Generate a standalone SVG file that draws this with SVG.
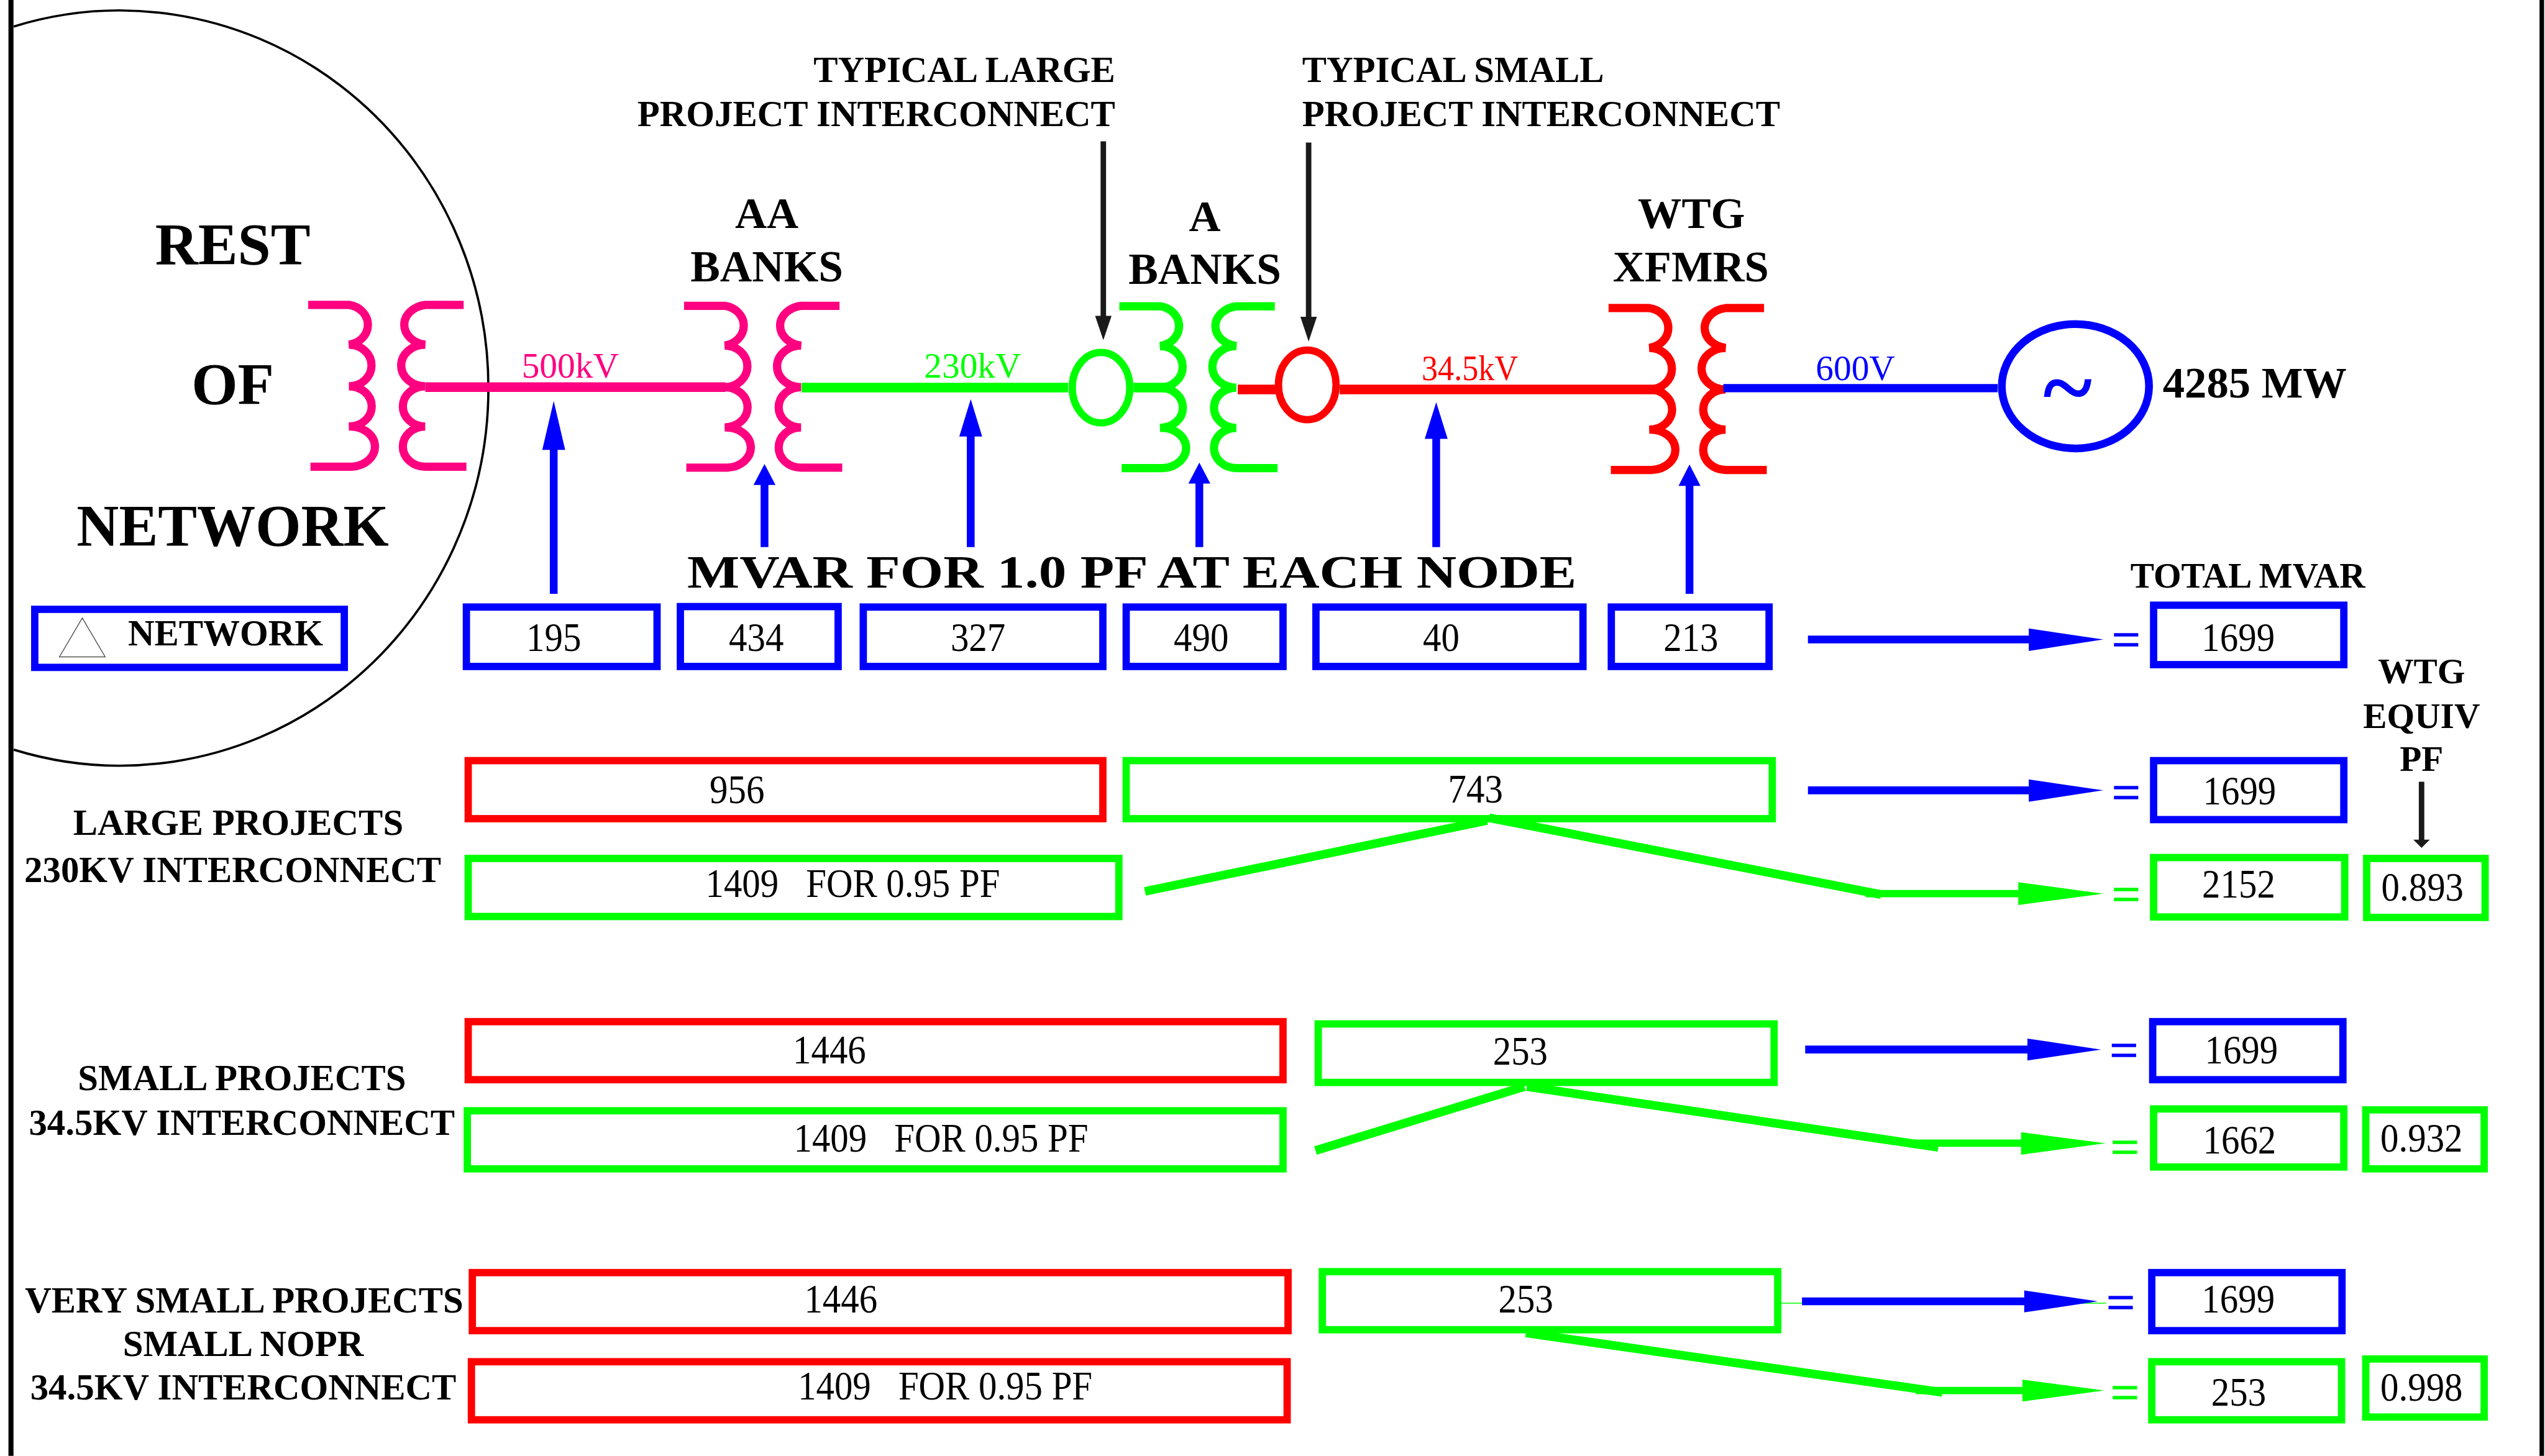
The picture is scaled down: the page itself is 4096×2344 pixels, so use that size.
<svg xmlns="http://www.w3.org/2000/svg" width="4096" height="2344" viewBox="0 0 4096 2344">
<style>
text{font-family:"Liberation Serif","Times New Roman",serif;white-space:pre}
.b{font-weight:700;fill:#000}
.r{font-weight:400;fill:#000}
.m{text-anchor:middle}
.e{text-anchor:end}
.t{font-size:88px}
.blu{fill:none;stroke:#00f;stroke-width:16}
.grn{fill:none;stroke:#0f0;stroke-width:16}
.red{fill:none;stroke:#f00;stroke-width:16}
.eqb{font-size:110px;text-anchor:middle;fill:#00f;stroke:#00f;stroke-width:2}
.eqg{font-size:110px;text-anchor:middle;fill:#0f0;stroke:#0f0;stroke-width:2}
.sb{stroke:#00f;stroke-width:17;fill:none}
.sg{stroke:#0f0;stroke-width:19;fill:none}
.sk{stroke:#1a1a1a;stroke-width:12;fill:none}
.hb{fill:#00f}
.hg{fill:#0f0}
.hk{fill:#1a1a1a}
</style>
<defs>
<g id="xf" fill="none" stroke="currentColor" stroke-width="18">
<path d="M674,667H763A49,44 0 0 1 763,754A49,45 0 0 1 763,845A50,44 0 0 1 763,933A54,44 0 0 1 769,1021H679"/>
<path d="M1014,667H930A54,44 0 0 0 930,754A52,45 0 0 0 930,845A49,44 0 0 0 930,933A49,44 0 0 0 930,1021H1020"/>
</g>
</defs>
<rect width="4096" height="2344" fill="#fff"/>
<g transform="scale(0.7359)">
<g id="frame">
<line x1="24" y1="0" x2="24" y2="3185" stroke="#000" stroke-width="11"/>
<line x1="5559" y1="0" x2="5559" y2="3185" stroke="#000" stroke-width="10"/>
</g>
<g id="network">
<path d="M30,58A806,826 0 1 1 30,1640" fill="none" stroke="#000" stroke-width="5"/>
<text class="b m" x="509" y="579" font-size="130">REST</text>
<text class="b m" x="509" y="885" font-size="130">OF</text>
<text class="b m" x="509" y="1194" font-size="128">NETWORK</text>
</g>
<g id="xfmr-root" style="color:#ff0080"><use href="#xf"/></g>
<g id="aa-banks" style="color:#ff0080">
<use href="#xf" transform="translate(822,2)"/>
<text class="b m" x="1677" y="499" font-size="96">AA</text>
<text class="b m" x="1677" y="616" font-size="97">BANKS</text>
</g>
<g id="a-banks" style="color:#0f0">
<use href="#xf" transform="translate(1774,3)"/>
<text class="b m" x="2635" y="505" font-size="96">A</text>
<text class="b m" x="2635" y="621" font-size="97">BANKS</text>
</g>
<g id="wtg-xfmrs" style="color:#f00">
<use href="#xf" transform="translate(2844,7)"/>
<text class="b m" x="3699" y="499" font-size="96">WTG</text>
<text class="b m" x="3698" y="616" font-size="96">XFMRS</text>
</g>
<g id="large-node">
<ellipse cx="2408" cy="848" rx="63" ry="77" fill="none" stroke="#0f0" stroke-width="16"/>
<text class="b e" x="2439" y="180" font-size="80">TYPICAL LARGE</text>
<text class="b e" x="2439" y="276" font-size="80">PROJECT INTERCONNECT</text>
</g>
<g id="small-node">
<ellipse cx="2859" cy="842" rx="63" ry="76" fill="none" stroke="#f00" stroke-width="16"/>
<text class="b" x="2848" y="180" font-size="80">TYPICAL SMALL</text>
<text class="b" x="2848" y="276" font-size="80">PROJECT INTERCONNECT</text>
</g>
<g id="generator">
<ellipse cx="4539" cy="845" rx="161" ry="136" fill="none" stroke="#00f" stroke-width="17"/>
<text class="b m" x="4522" y="916" font-size="205" style="fill:#00f">~</text>
<text class="b" x="4730" y="870" font-size="96">4285 MW</text>
</g>
<g id="connectors">
<line x1="930" y1="847" x2="1587" y2="847" stroke="#ff0080" stroke-width="21"/>
<line x1="1753" y1="848" x2="2336" y2="848" stroke="#0f0" stroke-width="21"/>
<line x1="2479" y1="848" x2="2554" y2="848" stroke="#0f0" stroke-width="21"/>
<line x1="2707" y1="852" x2="2790" y2="852" stroke="#f00" stroke-width="21"/>
<line x1="2930" y1="852" x2="3621" y2="852" stroke="#f00" stroke-width="21"/>
<line x1="3769" y1="849" x2="4369" y2="849" stroke="#00f" stroke-width="18"/>
<line class="sk" x1="2413" y1="309" x2="2413" y2="695"/><polygon class="hk" points="2395,691 2431,691 2413,744"/>
<line class="sk" x1="2862" y1="312" x2="2862" y2="697"/><polygon class="hk" points="2844,693 2880,693 2862,747"/>
<line class="sk" x1="5296" y1="1710" x2="5296" y2="1840"/><polygon class="hk" points="5278,1837 5314,1837 5296,1855"/>
<line class="sb" x1="1211" y1="1299" x2="1211" y2="980"/><polygon class="hb" points="1186,984 1236,984 1211,877"/>
<line class="sb" x1="1672" y1="1197" x2="1672" y2="1058"/><polygon class="hb" points="1648,1061 1696,1061 1672,1015"/>
<line class="sb" x1="2123" y1="1197" x2="2123" y2="952"/><polygon class="hb" points="2098,955 2148,955 2123,873"/>
<line class="sb" x1="2623" y1="1197" x2="2623" y2="1055"/><polygon class="hb" points="2599,1058 2647,1058 2623,1012"/>
<line class="sb" x1="3141" y1="1197" x2="3141" y2="957"/><polygon class="hb" points="3116,960 3166,960 3141,880"/>
<line class="sb" x1="3695" y1="1299" x2="3695" y2="1060"/><polygon class="hb" points="3671,1063 3719,1063 3695,1016"/>
<line class="sb" x1="3954" y1="1399" x2="4440" y2="1399"/><polygon class="hb" points="4437,1375 4600,1399 4437,1424"/>
<line class="sb" x1="3954" y1="1729" x2="4440" y2="1729"/><polygon class="hb" points="4437,1705 4600,1729 4437,1754"/>
<line class="sb" x1="3948" y1="2296" x2="4437" y2="2296"/><polygon class="hb" points="4434,2272 4595,2296 4434,2320"/>
<line x1="3896" y1="2851" x2="4606" y2="2851" stroke="#0f0" stroke-width="2"/>
<line class="sb" x1="3941" y1="2847" x2="4430" y2="2847"/><polygon class="hb" points="4427,2823 4588,2847 4427,2871"/>
<polyline class="sg" points="2504,1950 3252,1795"/>
<polyline class="sg" points="3257,1789 4114,1957"/>
<line class="sg" x1="4080" y1="1955" x2="4417" y2="1955" style="stroke-width:16"/><polygon class="hg" points="4414,1930 4600,1955 4414,1980"/>
<polyline class="sg" points="2877,2517 3334,2377"/>
<polyline class="sg" points="3339,2377 4239,2510"/>
<line class="sg" x1="4185" y1="2501" x2="4423" y2="2501" style="stroke-width:16"/><polygon class="hg" points="4420,2477 4605,2501 4420,2526"/>
<polyline class="sg" points="3337,2916 4248,3046"/>
<line class="sg" x1="4190" y1="3042" x2="4426" y2="3042" style="stroke-width:16"/><polygon class="hg" points="4423,3018 4602,3042 4423,3066"/>
</g>
<g id="voltage-labels">
<text class="r" x="1141" y="826" font-size="78" style="fill:#ff0080">500kV</text>
<text class="r" x="2021" y="826" font-size="78" style="fill:#0f0">230kV</text>
<text class="r" x="3109" y="831" font-size="78" textLength="211" lengthAdjust="spacingAndGlyphs" style="fill:#f00">34.5kV</text>
<text class="r" x="3971" y="831" font-size="78" style="fill:#00f">600V</text>
</g>
<g id="title"><text class="b" x="1503" y="1286" font-size="100" textLength="1945" lengthAdjust="spacingAndGlyphs">MVAR FOR 1.0 PF AT EACH NODE</text></g>
<g id="legend">
<rect class="blu" x="76" y="1333" width="677" height="127"/>
<polygon points="180,1352 130,1437 230,1437" fill="#fff" stroke="#555" stroke-width="2"/>
<text class="b" x="280" y="1412" font-size="80">NETWORK</text>
</g>
<g id="node-195"><rect class="blu" x="1020" y="1328" width="417" height="130"/><text class="r m t" x="1211" y="1424" textLength="120" lengthAdjust="spacingAndGlyphs">195</text></g>
<g id="node-434"><rect class="blu" x="1488" y="1327" width="345" height="131"/><text class="r m t" x="1654" y="1424" textLength="120" lengthAdjust="spacingAndGlyphs">434</text></g>
<g id="node-327"><rect class="blu" x="1888" y="1328" width="524" height="130"/><text class="r m t" x="2139" y="1424" textLength="120" lengthAdjust="spacingAndGlyphs">327</text></g>
<g id="node-490"><rect class="blu" x="2463" y="1328" width="343" height="130"/><text class="r m t" x="2627" y="1424" textLength="120" lengthAdjust="spacingAndGlyphs">490</text></g>
<g id="node-40"><rect class="blu" x="2878" y="1328" width="584" height="130"/><text class="r m t" x="3152" y="1424" textLength="80" lengthAdjust="spacingAndGlyphs">40</text></g>
<g id="node-213"><rect class="blu" x="3524" y="1328" width="345" height="130"/><text class="r m t" x="3698" y="1424" textLength="120" lengthAdjust="spacingAndGlyphs">213</text></g>
<g id="total-head"><text class="b m" x="4916" y="1286" font-size="78">TOTAL MVAR</text></g>
<g id="node-total-1"><rect class="blu" x="4710" y="1324" width="416" height="130"/><text class="r m t" x="4895" y="1424" textLength="160" lengthAdjust="spacingAndGlyphs">1699</text><text class="eqb" x="4650" y="1436">=</text></g>
<g id="pf-head">
<text class="b m" x="5296" y="1495" font-size="78">WTG</text>
<text class="b m" x="5296" y="1592" font-size="78">EQUIV</text>
<text class="b m" x="5296" y="1687" font-size="78">PF</text>
</g>
<g id="large-label">
<text class="b m" x="521" y="1827" font-size="80">LARGE PROJECTS</text>
<text class="b m" x="509" y="1930" font-size="80">230KV INTERCONNECT</text>
</g>
<g id="node-956"><rect class="red" x="1024" y="1664" width="1388" height="127"/><text class="r m t" x="1612" y="1757" textLength="120" lengthAdjust="spacingAndGlyphs">956</text></g>
<g id="node-743"><rect class="grn" x="2463" y="1664" width="1413" height="127"/><text class="r m t" x="3227" y="1755" textLength="120" lengthAdjust="spacingAndGlyphs">743</text></g>
<g id="node-1409a"><rect class="grn" x="1024" y="1878" width="1423" height="127"/><text class="r t" x="1543" y="1962" textLength="644" lengthAdjust="spacingAndGlyphs">1409   FOR 0.95 PF</text></g>
<g id="node-total-2"><rect class="blu" x="4710" y="1664" width="416" height="129"/><text class="r m t" x="4898" y="1760" textLength="160" lengthAdjust="spacingAndGlyphs">1699</text><text class="eqb" x="4650" y="1770">=</text></g>
<g id="node-total-3"><rect class="grn" x="4710" y="1876" width="418" height="130"/><text class="r m t" x="4896" y="1963" textLength="160" lengthAdjust="spacingAndGlyphs">2152</text><text class="eqg" x="4650" y="1994">=</text></g>
<g id="node-pf-1"><rect class="grn" x="5176" y="1878" width="259" height="129"/><text class="r m t" x="5298" y="1970" textLength="180" lengthAdjust="spacingAndGlyphs">0.893</text></g>
<g id="small-label">
<text class="b m" x="529" y="2385" font-size="80">SMALL PROJECTS</text>
<text class="b m" x="529" y="2482" font-size="80">34.5KV INTERCONNECT</text>
</g>
<g id="node-1446a"><rect class="red" x="1024" y="2235" width="1782" height="127"/><text class="r m t" x="1814" y="2327" textLength="160" lengthAdjust="spacingAndGlyphs">1446</text></g>
<g id="node-253a"><rect class="grn" x="2883" y="2240" width="997" height="128"/><text class="r m t" x="3325" y="2329" textLength="120" lengthAdjust="spacingAndGlyphs">253</text></g>
<g id="node-1409b"><rect class="grn" x="1022" y="2430" width="1784" height="127"/><text class="r t" x="1736" y="2520" textLength="644" lengthAdjust="spacingAndGlyphs">1409   FOR 0.95 PF</text></g>
<g id="node-total-4"><rect class="blu" x="4708" y="2235" width="416" height="127"/><text class="r m t" x="4902" y="2327" textLength="160" lengthAdjust="spacingAndGlyphs">1699</text><text class="eqb" x="4645" y="2335">=</text></g>
<g id="node-total-5"><rect class="grn" x="4710" y="2426" width="416" height="127"/><text class="r m t" x="4898" y="2523" textLength="160" lengthAdjust="spacingAndGlyphs">1662</text><text class="eqg" x="4647" y="2546">=</text></g>
<g id="node-pf-2"><rect class="grn" x="5174" y="2428" width="259" height="129"/><text class="r m t" x="5296" y="2519" textLength="180" lengthAdjust="spacingAndGlyphs">0.932</text></g>
<g id="very-small-label">
<text class="b m" x="534" y="2871" font-size="80">VERY SMALL PROJECTS</text>
<text class="b m" x="532" y="2967" font-size="80">SMALL NOPR</text>
<text class="b m" x="532" y="3062" font-size="80">34.5KV INTERCONNECT</text>
</g>
<g id="node-1446b"><rect class="red" x="1033" y="2784" width="1784" height="127"/><text class="r m t" x="1839" y="2871" textLength="160" lengthAdjust="spacingAndGlyphs">1446</text></g>
<g id="node-253b"><rect class="grn" x="2892" y="2782" width="996" height="127"/><text class="r m t" x="3337" y="2871" textLength="120" lengthAdjust="spacingAndGlyphs">253</text></g>
<g id="node-1409c"><rect class="red" x="1031" y="2979" width="1784" height="127"/><text class="r t" x="1745" y="3062" textLength="644" lengthAdjust="spacingAndGlyphs">1409   FOR 0.95 PF</text></g>
<g id="node-total-6"><rect class="blu" x="4706" y="2784" width="416" height="127"/><text class="r m t" x="4895" y="2871" textLength="160" lengthAdjust="spacingAndGlyphs">1699</text><text class="eqb" x="4638" y="2886">=</text></g>
<g id="node-total-7"><rect class="grn" x="4706" y="2979" width="415" height="127"/><text class="r m t" x="4896" y="3075" textLength="120" lengthAdjust="spacingAndGlyphs">253</text><text class="eqg" x="4647" y="3083">=</text></g>
<g id="node-pf-3"><rect class="grn" x="5174" y="2973" width="259" height="127"/><text class="r m t" x="5296" y="3064" textLength="180" lengthAdjust="spacingAndGlyphs">0.998</text></g>
</g>
</svg>
